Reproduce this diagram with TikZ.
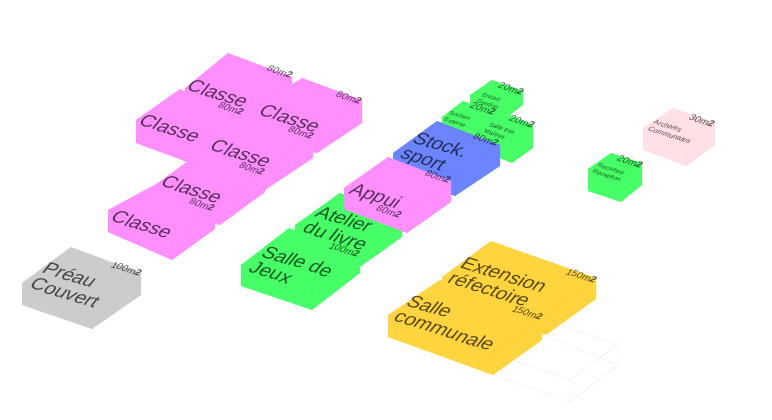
\documentclass[tikz,border=0pt]{standalone}
\usepackage{fontspec}
\setmainfont{Liberation Sans}
\usetikzlibrary{calc}
\definecolor{pinkc}{HTML}{FF8FFF}
\definecolor{greenc}{HTML}{47FF66}
\definecolor{bluec}{HTML}{6B85FF}
\definecolor{yellowc}{HTML}{FFD53F}
\definecolor{grayc}{HTML}{CCCCCC}
\definecolor{palec}{HTML}{FFE0E6}
\tikzset{
 iso/.style={inner sep=0pt,cm={.954,-.30,.62,.78,(0,0)},text=black,text opacity=.65},
 big/.style={iso,anchor=south west,align=left,font=\fontsize{19.6}{20}\selectfont},
 mid/.style={iso,anchor=south west,align=left,font=\fontsize{6.3}{8}\selectfont},
 midb/.style={mid,font=\fontsize{7.4}{9}\selectfont},
 area/.style={iso,anchor=south east,font=\fontsize{10}{11}\selectfont},
 ghost/.style={draw=black!9,line width=.4pt}
}
% #1 name, #2 colour, #3 L, #4 T, #5 R, #6 F, #7 height
\newcommand{\isobox}[7]{%
 \coordinate (#1L) at (#3);\coordinate (#1T) at (#4);\coordinate (#1R) at (#5);\coordinate (#1F) at (#6);
 \coordinate (#1l) at ($(#3)+(0,#7)$);\coordinate (#1r) at ($(#5)+(0,#7)$);\coordinate (#1f) at ($(#6)+(0,#7)$);
 \fill[#2] (#1L)--(#1T)--(#1R)--(#1r)--(#1f)--(#1l)--cycle;
 \draw[#2!94!black,line width=.25pt] (#1L)--(#1F)--(#1R) (#1F)--(#1f);
}
\newcommand{\aream}[1]{#1m\textbf{2}}
\begin{document}
\begin{tikzpicture}[x=1pt,y=-1pt]
\useasboundingbox (0,0) rectangle (772,420);
% ghost
\coordinate (gA) at (493,353);\coordinate (gB) at (545,320);\coordinate (gC) at (618,344);\coordinate (gD) at (570,380);
\coordinate (ga) at (493,375);\coordinate (gb) at (542,335);\coordinate (gc) at (618,365);\coordinate (gd) at (570,402);
\draw[ghost] (gA)--(gD)--(gC)--(gB) (gD)--(gd) (ga)--(gd)--(gc)--(gC) (gb)--(gc);
% boxes, back to front
\isobox{a}{pinkc}{185,88}{228,53}{292,77}{249,112}{22}
\isobox{b}{pinkc}{247,112}{302,78}{362,100}{317,130}{23}
\isobox{c}{pinkc}{136,120}{180,89}{240,115}{198,143}{23}
\isobox{d}{pinkc}{198,145}{240,113}{313,136}{265,168}{22}
\isobox{e}{pinkc}{158,183}{203,150}{265,170}{220,203}{22}
\isobox{f}{pinkc}{108,210}{158,183}{215,207}{172,238}{22}
\isobox{g}{grayc}{22,283}{71,247}{141,273}{92,307}{22}
\isobox{h}{greenc}{295,225}{340,193}{402,215}{357,247}{22}
\isobox{i}{greenc}{241,265}{289,228}{360,252}{312,289}{21}
\isobox{j}{greenc}{470,95}{492,80}{523,91}{502,107}{14}
\isobox{k}{greenc}{442,117}{463,101}{503,116}{482,132}{14}
\isobox{l}{greenc}{482,128}{503,112}{533,125}{512,140}{23}
\isobox{m}{bluec}{393,153}{437,121}{500,145}{455,175}{21}
\isobox{n}{pinkc}{344,188}{388,157}{451,181}{407,212}{21}
\isobox{o}{palec}{643,128}{673,108}{715,123}{686,144}{22}
\isobox{p}{greenc}{588,169}{611,153}{642,163}{621,180}{22}
\isobox{q}{yellowc}{442,277}{491,241}{596,278}{546,314}{21}
\isobox{r}{yellowc}{388,315}{440,280}{542,318}{493,353}{22}
% labels
\node[big] (t1) at (185,90) {Classe};
\node[big] (t2) at (257,115) {Classe};
\node[big] (t3) at (137,125) {Classe};
\node[big] (t4) at (208,150) {Classe};
\node[big] (t5) at (159,186) {Classe};
\node[big] (t6) at (109,221) {Classe};
\node[big] (t7) at (28,288) {Préau\\Couvert};
\node[big] (t8) at (301,232) {Atelier\\du livre};
\node[big] (t9) at (247,272) {Salle de\\Jeux};
\node[big] (t10) at (345,197) {Appui};
\node[big] (t11) at (396,161) {Stock.\\sport};
\node[big] (t12) at (446,283) {Extension\\réfectoire};
\node[big] (t13) at (392,321) {Salle\\communale};
\node[mid] (t14) at (476,103) {Encad.\\Gestion};
\node[mid] (t15) at (443,121) {Soutien\\Externe};
\node[mid] (t16) at (483,133) {Salle trav.\\Maîtres};
\node[mid] (t17) at (591,174) {Recruteur\\Réception};
\node[midb] (t18) at (647,131) {Archives\\Communales};
\node[area] (u1) at (290,78.5) {\aream{80}};
\node[area] (u2) at (241,115.5) {\aream{80}};
\node[area] (u3) at (359,104.5) {\aream{80}};
\node[area] (u4) at (311,139.5) {\aream{80}};
\node[area] (u5) at (262,175.5) {\aream{80}};
\node[area] (u6) at (212,211.5) {\aream{80}};
\node[area] (u7) at (139,276.5) {\aream{100}};
\node[area] (u8) at (357,257.5) {\aream{100}};
\node[area] (u9) at (399,218.5) {\aream{80}};
\node[area] (u10) at (448,183.5) {\aream{80}};
\node[area] (u11) at (496,146.5) {\aream{80}};
\node[area] (u12) at (521,95.5) {\aream{20}};
\node[area] (u13) at (493,115.5) {\aream{20}};
\node[area] (u14) at (532,128.5) {\aream{20}};
\node[area] (u15) at (640,168.5) {\aream{20}};
\node[area] (u16) at (712,127.5) {\aream{30}};
\node[area] (u17) at (594,283.5) {\aream{150}};
\node[area] (u18) at (540,320.5) {\aream{150}};
\end{tikzpicture}
\end{document}
